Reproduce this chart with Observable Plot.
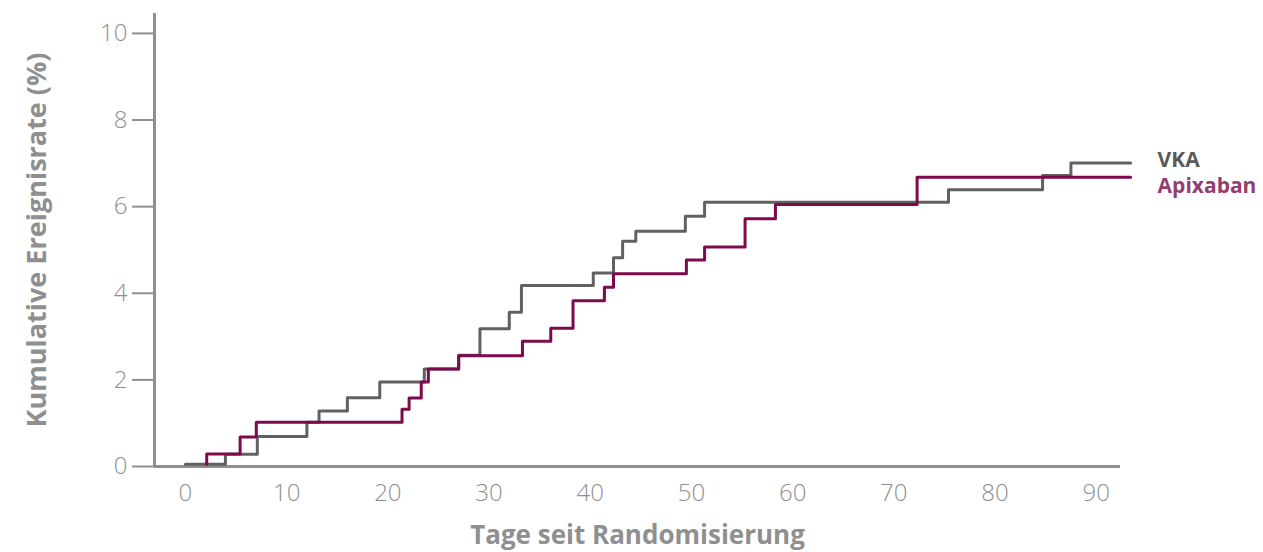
<!DOCTYPE html>
<html>
<head>
<meta charset="utf-8">
<script src="https://cdn.jsdelivr.net/npm/d3@7"></script>
<script src="https://cdn.jsdelivr.net/npm/@observablehq/plot@0.6"></script>
<style>
  html, body { margin: 0; padding: 0; background: #fff; }
  #chart svg { display: block; }
</style>
</head>
<body>
<div id="chart"></div>
<script>
// --- Data ---
const vkaDays  = [0, 3.95, 7.1, 12.0, 13.2, 16.0, 19.2, 23.6, 27.0, 29.1, 32.0, 33.2, 40.3, 42.3, 43.2, 44.5, 49.4, 51.3, 75.4, 84.7, 87.5, 93.4];
const vkaRate  = [0.05, 0.28, 0.69, 1.02, 1.28, 1.59, 1.95, 2.25, 2.57, 3.18, 3.56, 4.18, 4.47, 4.82, 5.20, 5.43, 5.78, 6.10, 6.39, 6.72, 7.01, 7.01];
const apixDays = [2.1, 2.1, 5.4, 7.0, 21.4, 22.1, 23.3, 24.0, 27.0, 33.3, 36.1, 38.3, 41.4, 42.3, 49.5, 51.3, 55.3, 58.3, 72.3, 93.4];
const apixRate = [0.05, 0.29, 0.68, 1.02, 1.32, 1.58, 1.95, 2.25, 2.56, 2.89, 3.19, 3.83, 4.14, 4.45, 4.77, 5.07, 5.72, 6.05, 6.68, 6.68];
const xTicks = [0, 10, 20, 30, 40, 50, 60, 70, 80, 90];
const yTicks = [0, 2, 4, 6, 8, 10];
const seriesNames = ["VKA", "Apixaban"];
const xTitle = "Tage seit Randomisierung";
const yTitle = "Kumulative Ereignisrate (%)";

const vka  = vkaDays.map((d, i) => ({day: d, rate: vkaRate[i]}));
const apix = apixDays.map((d, i) => ({day: d, rate: apixRate[i]}));

const xDomain = [-3.06, 92.4];
const yDomain = [0, 10.46];
const axisColor = "#8f8f8f";
const grayLine = "#616161";
const purpleLine = "#7d0a4c";

const chart = Plot.plot({
  width: 1263,
  height: 552,
  marginLeft: 154,
  marginRight: 143,
  marginTop: 13,
  marginBottom: 86,
  style: {fontFamily: "'Open Sans', sans-serif", background: "#fff"},
  x: {domain: xDomain},
  y: {domain: yDomain},
  marks: [
    Plot.axisY({ticks: yTicks, tickSize: 22, tickPadding: 5, fontSize: 24, fontWeight: 300,
      stroke: axisColor, strokeWidth: 2, color: axisColor, label: null}),
    Plot.axisX({ticks: xTicks, tickSize: 0, tickPadding: 17, fontSize: 24, fontWeight: 300,
      color: axisColor, label: null}),
    Plot.ruleX([xDomain[0]], {y1: yDomain[0], y2: yDomain[1], stroke: axisColor, strokeWidth: 3}),
    Plot.ruleY([0], {x1: xDomain[0], x2: xDomain[1], stroke: axisColor, strokeWidth: 3}),
    Plot.line(vka, {x: "day", y: "rate", curve: "step-after", stroke: grayLine, strokeWidth: 3}),
    Plot.line(apix, {x: "day", y: "rate", curve: "step-after", stroke: purpleLine, strokeWidth: 3}),
    Plot.text([vka[vka.length - 1]], {x: "day", y: "rate", text: () => seriesNames[0],
      textAnchor: "start", dx: 27, dy: -3, fontSize: 21, fontWeight: "bold", fill: "#5a5a5a"}),
    Plot.text([apix[apix.length - 1]], {x: "day", y: "rate", text: () => seriesNames[1],
      textAnchor: "start", dx: 27, dy: 9, fontSize: 21, fontWeight: "bold", fill: "#953d6f"}),
    Plot.text([xTitle], {frameAnchor: "bottom", dy: 69, lineAnchor: "middle", textAnchor: "middle",
      fontSize: 26, fontWeight: "bold", fill: axisColor}),
    Plot.text([yTitle], {frameAnchor: "left", rotate: -90, dx: -117, lineAnchor: "middle", textAnchor: "middle",
      fontSize: 27, fontWeight: "bold", fill: axisColor})
  ]
});
document.getElementById("chart").appendChild(chart);
</script>
</body>
</html>
